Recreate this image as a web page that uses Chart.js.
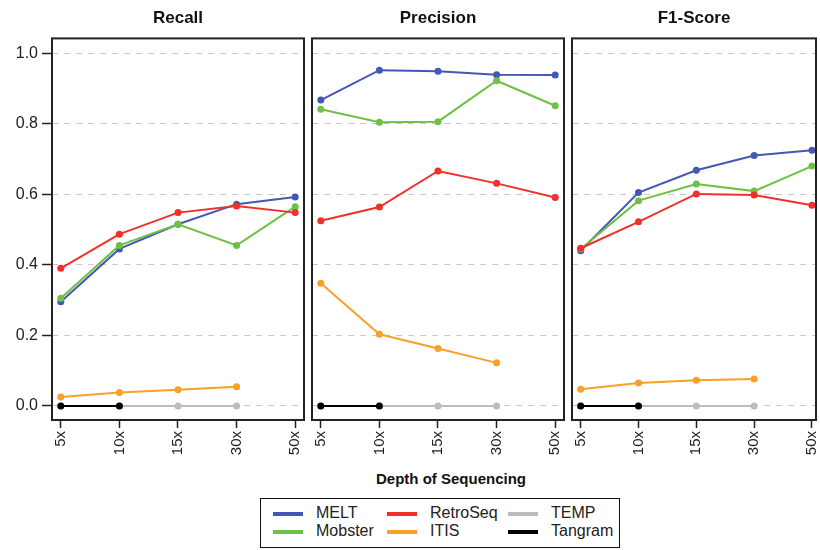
<!DOCTYPE html>
<html>
<head>
<meta charset="utf-8">
<script src="https://cdn.jsdelivr.net/npm/chart.js@4/dist/chart.umd.min.js"></script>
<style>
body { margin: 0; background: #fff; width: 820px; height: 550px; overflow: hidden; position: relative;
       font-family: "Liberation Sans", Arial, sans-serif; }
canvas { position: absolute; top: 0; }
#xTitle { position: absolute; left: 300px; width: 302px; top: 470px; text-align: center;
          font-weight: bold; font-size: 15px; color: #111; }
#legend { position: absolute; left: 260px; top: 498px; width: 360px; height: 50px;
          border: 1.5px solid #111; box-sizing: border-box; }
.item { position: absolute; font-size: 16px; color: #222; line-height: 18px; white-space: nowrap; }
.item span { display: inline-block; width: 30px; height: 4px; vertical-align: middle; margin-right: 13px; }
</style>
</head>
<body>
<canvas id="recall" width="308" height="470" style="left:0px"></canvas>
<canvas id="precision" width="260" height="470" style="left:308px"></canvas>
<canvas id="f1" width="252" height="470" style="left:568px"></canvas>
<div id="xTitle">Depth of Sequencing</div>
<div id="legend"></div>

<script>
// data
const depthLabels = ['5x', '10x', '15x', '30x', '50x'];
const yTickValues = [0, 0.2, 0.4, 0.6, 0.8, 1.0];
const seriesNames = ['MELT', 'Mobster', 'RetroSeq', 'ITIS', 'TEMP', 'Tangram'];

const recallMELT     = [0.295, 0.445, 0.515, 0.572, 0.592];
const recallMobster  = [0.305, 0.455, 0.515, 0.455, 0.565];
const recallRetroSeq = [0.390, 0.487, 0.548, 0.567, 0.548];
const recallITIS     = [0.025, 0.038, 0.046, 0.054, null];
const recallTEMP     = [0, 0, 0, 0, null];
const recallTangram  = [0, 0, null, null, null];

const precisionMELT     = [0.867, 0.952, 0.949, 0.939, 0.938];
const precisionMobster  = [0.841, 0.804, 0.806, 0.922, 0.851];
const precisionRetroSeq = [0.525, 0.564, 0.666, 0.631, 0.591];
const precisionITIS     = [0.348, 0.203, 0.163, 0.122, null];
const precisionTEMP     = [0, 0, 0, 0, null];
const precisionTangram  = [0, 0, null, null, null];

const f1MELT     = [0.440, 0.605, 0.668, 0.710, 0.725];
const f1Mobster  = [0.445, 0.582, 0.629, 0.609, 0.680];
const f1RetroSeq = [0.447, 0.522, 0.601, 0.598, 0.569];
const f1ITIS     = [0.047, 0.065, 0.073, 0.076, null];
const f1TEMP     = [0, 0, 0, 0, null];
const f1Tangram  = [0, 0, null, null, null];

// styles
const colors = {
    MELT: '#4358b5', Mobster: '#6fc046', RetroSeq: '#f2302a',
    ITIS: '#f8a128', TEMP: '#bdbdbd', Tangram: '#000000'
};
// draw order: first one ends up on top
const drawOrder = ['Tangram', 'RetroSeq', 'Mobster', 'MELT', 'ITIS', 'TEMP'];

Chart.defaults.font.family = '"Liberation Sans", Arial, sans-serif';

const frame = {
    id: 'frame',
    afterDraw(chart) {
        const { ctx, chartArea: a } = chart;
        ctx.save();
        ctx.strokeStyle = '#222';
        ctx.lineWidth = 2;
        ctx.strokeRect(a.left, a.top, a.right - a.left, a.bottom - a.top);
        ctx.restore();
    }
};

function toPoints(values)
{
    return values.map((v, i) => ({ x: i, y: v })).filter(p => p.y !== null);
}

function makePanel(id, title, series, showY, xMax, padRight)
{
    const datasets = drawOrder.map(name => ({
        label: name,
        data: toPoints(series[name]),
        borderColor: colors[name],
        backgroundColor: colors[name],
        borderWidth: 2,
        pointRadius: 3.5,
        pointBorderWidth: 0,
        tension: 0
    }));

    new Chart(document.getElementById(id), {
        type: 'line',
        data: { datasets: datasets },
        options: {
            responsive: false,
            animation: false,
            layout: { padding: { left: 0, right: padRight, top: 0, bottom: 0 } },
            plugins: {
                legend: { display: false },
                tooltip: { enabled: false },
                title: {
                    display: true, text: title, fullSize: false, color: '#111',
                    font: { size: 17, weight: 'bold' },
                    padding: { top: 8, bottom: 10 }
                }
            },
            scales: {
                x: {
                    type: 'linear', min: -0.15, max: xMax,
                    afterBuildTicks: s => { s.ticks = depthLabels.map((_, i) => ({ value: i })); },
                    afterFit: s => { s.height = 50; s.paddingLeft = 0; s.paddingRight = 0; },
                    ticks: {
                        autoSkip: false, minRotation: 90, maxRotation: 90, padding: 3,
                        color: '#222', font: { size: 15 },
                        callback: v => depthLabels[Math.round(v)]
                    },
                    grid: { color: 'rgba(0,0,0,0)', drawOnChartArea: false, tickLength: 8, tickColor: '#222', tickWidth: 1.5 },
                    border: { display: false }
                },
                y: {
                    min: -0.04, max: 1.042,
                    afterBuildTicks: s => { s.ticks = yTickValues.map(v => ({ value: v })); },
                    afterFit: s => { s.width = showY ? 52 : 4; s.paddingTop = 0; s.paddingBottom = 0; },
                    ticks: {
                        display: showY, padding: 4, color: '#222', font: { size: 16 },
                        callback: v => v.toFixed(1)
                    },
                    grid: { color: '#cfc5c5', lineWidth: 1, drawTicks: showY, tickLength: 10, tickColor: '#222', tickWidth: 1.5, tickBorderDash: [] },
                    border: { display: false, dash: [6, 6] }
                }
            }
        },
        plugins: [frame]
    });
}

makePanel('recall', 'Recall', {
    MELT: recallMELT, Mobster: recallMobster, RetroSeq: recallRetroSeq,
    ITIS: recallITIS, TEMP: recallTEMP, Tangram: recallTangram
}, true, 4.15, 4);

makePanel('precision', 'Precision', {
    MELT: precisionMELT, Mobster: precisionMobster, RetroSeq: precisionRetroSeq,
    ITIS: precisionITIS, TEMP: precisionTEMP, Tangram: precisionTangram
}, false, 4.15, 4);

makePanel('f1', 'F1-Score', {
    MELT: f1MELT, Mobster: f1Mobster, RetroSeq: f1RetroSeq,
    ITIS: f1ITIS, TEMP: f1TEMP, Tangram: f1Tangram
}, false, 4.07, 1);

// legend: 3 columns x 2 rows
const legendPos = [[12, 5], [12, 23], [126, 5], [126, 23], [247, 5], [247, 23]];
const legendBox = document.getElementById('legend');
seriesNames.forEach((name, i) => {
    const div = document.createElement('div');
    div.className = 'item';
    div.style.left = legendPos[i][0] + 'px';
    div.style.top = legendPos[i][1] + 'px';
    div.innerHTML = '<span style="background:' + colors[name] + '"></span>' + name;
    legendBox.appendChild(div);
});
</script>
</body>
</html>
